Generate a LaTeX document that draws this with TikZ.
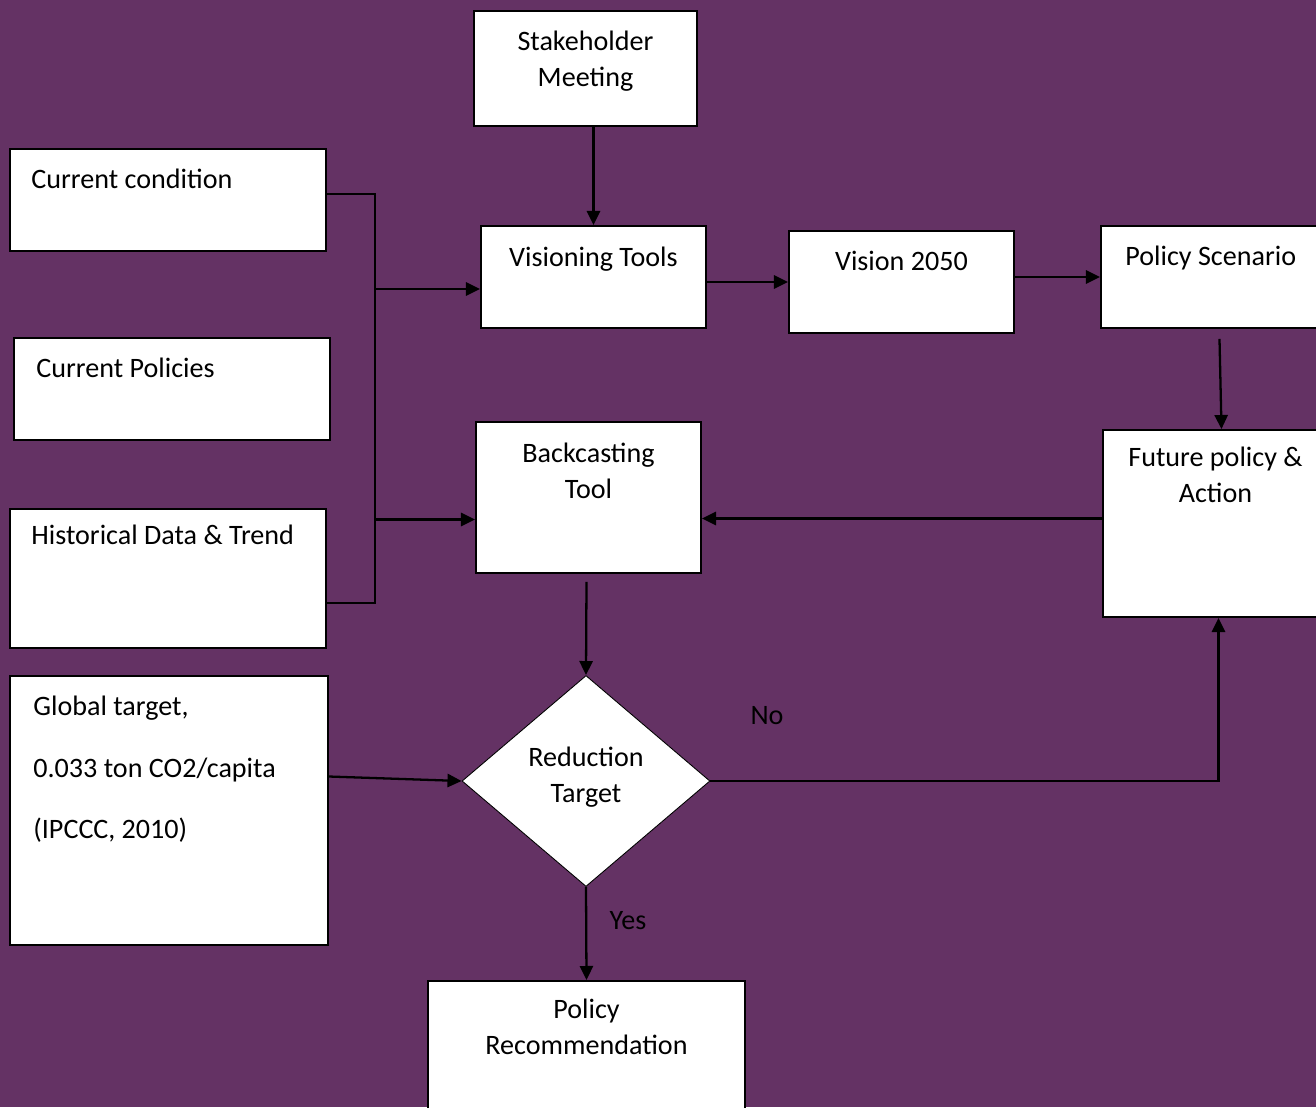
\documentclass[tikz,border=0pt]{standalone}
\usepackage{fontspec}
\setmainfont{Carlito}
\usepackage{tikz}
\usetikzlibrary{arrows.meta,shapes.geometric,calc}
\definecolor{bg}{HTML}{643264}
\def\px{0.02cm}
\tikzset{
  box/.style={draw=black, fill=white, line width=1.1pt, inner sep=0pt},
  dec/.style={diamond, draw=black, fill=white, line width=0.5pt, inner sep=0pt, align=center,
    font=\fontsize{16}{20.4}\selectfont},
  lab/.style={text=black, inner sep=0pt, align=center, font=\fontsize{16}{20.4}\selectfont},
  labl/.style={lab, align=left},
  line/.style={draw=black, line width=1.3pt},
  arr/.style={line, -{Triangle[length=8pt,width=7.5pt]}},
}

\begin{document}
\begin{tikzpicture}[x=0.02cm, y=-0.02cm]
  \clip (0,0) rectangle (1316,1107);
  \fill[bg] (0,0) rectangle (1316,1107);

  % left column
  \node[box, minimum width=316*\px, minimum height=102*\px,
    label={[labl,anchor=north west,xshift=22*\px,yshift=-21*\px]north west:Current condition}] (cond) at (168,200) {};
  \node[box, minimum width=316*\px, minimum height=102*\px,
    label={[labl,anchor=north west,xshift=23*\px,yshift=-21*\px]north west:Current Policies}] (pol) at (172,389) {};
  \node[box, minimum width=316*\px, minimum height=139*\px,
    label={[labl,anchor=north west,xshift=22*\px,yshift=-17*\px]north west:Historical Data \& Trend}] (hist) at (168,578.5) {};
  \node[box, minimum width=318*\px, minimum height=269*\px,
    label={[labl,anchor=north west,xshift=24*\px,yshift=-21*\px]north west:Global target,\\[14.5pt]0.033 ton CO2/capita\\[14.5pt](IPCCC, 2010)}] (glob) at (169,810.5) {};

  % middle column
  \node[box, minimum width=223*\px, minimum height=115*\px,
    label={[lab,anchor=north,yshift=-21*\px]north:Stakeholder\\Meeting}] (stake) at (585.5,68.5) {};
  \node[box, minimum width=225*\px, minimum height=102*\px,
    label={[lab,anchor=north,yshift=-22*\px]north:Visioning Tools}] (vis) at (593.5,277) {};
  \node[box, minimum width=225*\px, minimum height=151*\px,
    label={[lab,anchor=north,yshift=-22*\px]north:Backcasting\\Tool}] (back) at (588.5,497.5) {};
  \node[dec, minimum width=248*\px, minimum height=211*\px] (red) at (586,781) {Reduction\\Target\\[-13pt]\mbox{}};
  \node[box, minimum width=317*\px, minimum height=150*\px,
    label={[lab,anchor=north,yshift=-19*\px]north:Policy\\Recommendation}] (rec) at (586.5,1056) {};

  % right side
  \node[box, minimum width=225*\px, minimum height=102*\px,
    label={[lab,anchor=north,yshift=-21*\px]north:Vision 2050}] (v2050) at (901.5,282) {};
  \node[box, minimum width=225*\px, minimum height=102*\px,
    label={[lab,anchor=north west,xshift=25*\px,yshift=-21*\px]north west:Policy Scenario}] (scen) at (1213.5,277) {};
  \node[box, minimum width=225*\px, minimum height=187*\px,
    label={[lab,anchor=north,yshift=-18*\px]north:Future policy \&\\Action}] (fut) at (1215.5,523.5) {};

  % connectors
  \coordinate (bt) at (375,194);
  \coordinate (bb) at (375,603);
  \coordinate (vin) at ([yshift=-12*\px]vis.west);
  \coordinate (bin) at ([yshift=-22*\px]back.west);
  \coordinate (ge) at ([yshift=34*\px]glob.east);
  \coordinate (sf) at ([xshift=6*\px]fut.north);
  \coordinate (so) at ([xshift=6*\px,yshift=-10*\px]scen.south);
  \coordinate (fb) at ([yshift=5*\px]fut.west);
  \coordinate (bo) at ([xshift=-2*\px,yshift=-8*\px]back.south);
  \coordinate (fs) at ([xshift=3*\px]fut.south);

  \draw[line] (cond.east |- bt) -- (bt) -- (bb) -- (hist.east |- bb);
  \draw[arr] (stake.south -| vis.north) -- (vis.north);
  \draw[arr] (bt |- vin) -- (vin);
  \draw[arr] (bt |- bin) -- (bin);
  \draw[arr] (vis.east |- v2050.west) -- (v2050.west);
  \draw[arr] (v2050.east |- scen.west) -- (scen.west);
  \draw[arr] (so) -- (sf);
  \draw[arr] (fb) -- (back.east |- fb);
  \draw[arr] (bo) -- (red.north);
  \draw[arr] (ge) -- (red.west);
  \draw[arr] (red.east) -| (fs);
  \draw[arr] (red.south) -- (rec.north);
  \node[lab] (no) at (767,716) {No};
  \node[lab] (yes) at (628,921) {Yes};
\end{tikzpicture}
\end{document}
